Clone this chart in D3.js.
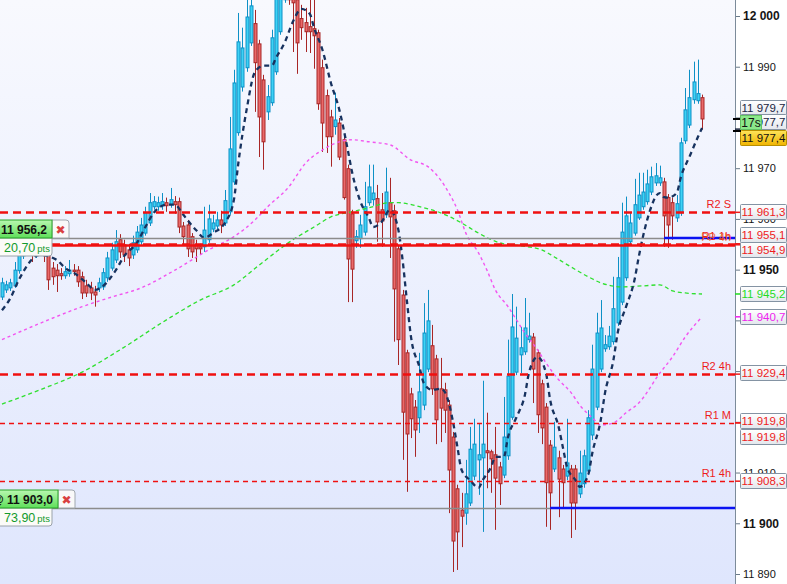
<!DOCTYPE html>
<html>
<head>
<meta charset="utf-8">
<script src="https://cdn.jsdelivr.net/npm/d3@7"></script>
<style>
  html, body { margin: 0; padding: 0; background: #fff; }
  svg { display: block; font-family: "Liberation Sans", Arial, sans-serif; }
</style>
</head>
<body>
<svg id="chart" width="787" height="584"></svg>
<script>
// ---- candles (price, one entry per bar) ----
const openP = [
  11944.6,11946.0,11946.4,11946.8,11949.8,11952.7,11954.7,11956.5,11954.5,11955.3,
  11956.7,11953.1,11950.3,11949.9,11949.2,11948.8,11949.2,11949.9,11949.9,11948.6,
  11946.8,11946.4,11945.6,11946.4,11946.6,11948.4,11950.3,11951.9,11955.9,11954.9,
  11953.9,11952.9,11953.9,11955.5,11957.2,11959.2,11962.4,11962.4,11962.6,11963.2,
  11962.8,11963.4,11963.4,11958.6,11958.8,11956.5,11954.9,11954.5,11954.5,11955.9,
  11958.0,11958.6,11959.8,11959.2,11961.4,11967.3,11977.0,11986.0,11989.8,11994.7,
  11998.5,11994.5,11987.4,11981.1,11982.9,11989.0,11996.9,12003.2,12004.4,12003.8,
  12003.2,11999.5,11998.7,11997.9,11997.5,11996.7,11989.8,11984.3,11980.1,11978.2,
  11978.9,11975.6,11969.9,11961.0,11955.7,11956.1,11957.4,11963.2,11963.8,11964.0,
  11961.8,11960.8,11963.2,11961.6,11954.1,11945.0,11933.6,11925.5,11922.9,11920.8,
  11923.3,11930.4,11935.0,11932.4,11926.5,11926.3,11923.3,11917.0,11906.8,11902.6,
  11902.0,11904.0,11909.3,11912.5,11912.9,11914.3,11914.1,11913.5,11911.1,11909.5,
  11913.3,11920.9,11929.8,11933.2,11933.8,11936.2,11936.7,11933.6,11927.5,11922.9,
  11915.4,11910.7,11912.9,11910.7,11909.3,11910.7,11910.7,11905.8,11907.8,11910.3,
  11917.4,11922.9,11930.4,11934.4,11934.8,11935.8,11939.5,11943.6,11948.4,11955.5,
  11957.2,11960.2,11962.4,11963.4,11965.3,11967.1,11967.1,11967.3,11964.2,11963.2,
  11960.2,11961.2,11975.4,11978.5,11983.5,11983.3,11983.9
];
const highP = [
  11948.4,11947.8,11948.2,11951.5,11954.9,11956.7,11958.0,11957.4,11957.2,11958.6,
  11957.8,11953.9,11951.5,11951.1,11950.3,11950.7,11951.9,11951.1,11950.7,11949.6,
  11948.0,11947.6,11946.8,11948.4,11950.3,11953.5,11955.3,11957.8,11957.0,11955.9,
  11955.1,11956.7,11958.6,11960.2,11962.4,11965.1,11964.5,11964.4,11965.1,11964.2,
  11966.1,11964.5,11964.2,11959.4,11959.8,11957.2,11955.9,11955.1,11962.4,11962.8,
  11960.8,11961.4,11961.6,11965.7,11980.1,11989.4,12000.6,11997.7,12003.2,12004.2,
  12001.2,11995.3,11988.4,11986.4,11997.3,12005.2,12005.6,12005.6,12005.6,12005.2,
  12004.8,12002.2,12001.6,12003.2,12003.2,11997.3,11991.4,11985.5,11981.5,11984.9,
  11979.9,11976.6,11970.7,11961.8,11957.8,11960.8,11967.3,11970.7,11970.7,11966.7,
  11965.1,11970.1,11968.1,11962.8,11954.9,11946.0,11934.2,11926.7,11924.3,11933.6,
  11943.4,11946.0,11939.1,11933.2,11932.6,11927.7,11924.3,11918.0,11907.6,11906.0,
  11912.5,11919.0,11920.6,11919.6,11928.1,11921.8,11914.5,11919.0,11912.1,11924.9,
  11936.2,11945.2,11942.7,11938.7,11944.4,11941.5,11937.5,11934.2,11928.3,11923.7,
  11916.4,11920.0,11914.3,11911.5,11920.6,11911.5,11911.5,11914.3,11914.5,11922.3,
  11935.2,11941.5,11944.0,11937.1,11938.9,11948.6,11952.5,11963.2,11964.4,11961.2,
  11967.9,11969.1,11969.1,11969.7,11970.3,11971.0,11970.5,11968.1,11964.9,11964.2,
  11964.7,11976.0,11985.8,11989.4,11991.0,11991.4,11984.5
];
const lowP = [
  11944.0,11945.4,11945.8,11946.4,11949.2,11952.1,11954.1,11951.5,11952.3,11953.9,
  11951.5,11946.0,11947.0,11945.6,11948.0,11948.2,11948.6,11948.8,11946.6,11944.2,
  11944.6,11944.0,11942.7,11945.6,11946.0,11947.6,11949.8,11951.3,11952.3,11951.5,
  11950.7,11952.1,11953.3,11954.9,11956.7,11958.6,11961.8,11961.6,11961.8,11961.4,
  11962.2,11961.0,11957.2,11954.9,11952.5,11952.3,11951.5,11952.9,11953.5,11955.3,
  11957.4,11958.0,11957.2,11958.6,11960.8,11966.7,11976.4,11985.1,11989.0,11994.1,
  11981.1,11972.2,11969.7,11979.5,11982.3,11988.4,11996.3,12002.6,12002.2,11992.9,
  11988.6,11995.3,11992.9,11992.7,11989.6,11981.5,11973.2,11973.0,11970.3,11976.6,
  11971.6,11963.8,11943.6,11943.6,11954.3,11954.3,11956.7,11962.6,11962.6,11955.5,
  11954.5,11960.2,11952.3,11935.8,11931.2,11912.5,11906.2,11916.8,11913.1,11917.8,
  11922.3,11929.8,11925.3,11915.6,11916.0,11917.8,11902.0,11890.4,11890.8,11895.3,
  11899.7,11903.4,11908.5,11905.6,11898.3,11906.9,11906.0,11898.7,11903.6,11908.9,
  11912.5,11920.4,11929.2,11929.6,11933.2,11935.6,11923.7,11917.8,11915.6,11899.3,
  11898.7,11910.1,11901.2,11903.0,11908.5,11897.1,11898.7,11905.0,11907.0,11909.5,
  11916.4,11922.3,11929.8,11933.8,11934.2,11935.2,11938.9,11943.0,11947.8,11954.9,
  11956.7,11959.8,11961.8,11962.8,11964.7,11966.5,11966.5,11954.5,11954.3,11955.9,
  11959.4,11960.6,11974.8,11977.9,11982.7,11982.7,11977.6
];
const closeP = [
  11947.4,11947.0,11947.4,11949.9,11953.5,11955.3,11956.7,11954.7,11955.7,11956.9,
  11953.1,11948.0,11948.6,11948.8,11948.8,11949.6,11949.9,11949.6,11947.6,11945.4,
  11945.4,11945.4,11945.0,11947.4,11949.4,11952.3,11953.9,11955.5,11953.5,11952.9,
  11952.3,11955.3,11957.4,11958.8,11961.2,11963.2,11963.4,11963.2,11963.4,11962.6,
  11963.8,11962.8,11958.4,11956.5,11954.1,11953.5,11954.1,11954.1,11957.8,11960.0,
  11959.2,11959.8,11958.8,11963.6,11973.8,11986.8,11994.9,11993.7,11999.8,12002.0,
  11990.8,11980.1,11975.2,11984.1,11995.7,12004.2,12004.4,12004.4,12003.2,12002.6,
  11994.7,11997.7,11996.9,11996.9,11996.1,11982.7,11978.9,11976.2,11976.2,11979.5,
  11972.2,11964.2,11952.1,11950.1,11956.5,11958.8,11962.4,11966.3,11965.1,11959.4,
  11959.6,11965.3,11960.4,11946.2,11936.2,11921.9,11917.6,11920.6,11918.4,11925.9,
  11937.5,11939.9,11926.5,11920.4,11922.7,11922.3,11910.5,11896.5,11898.3,11901.4,
  11905.8,11914.6,11915.6,11913.5,11915.6,11913.9,11912.7,11908.9,11907.8,11917.0,
  11929.0,11938.7,11936.5,11934.6,11938.5,11936.9,11930.4,11921.4,11918.8,11908.0,
  11906.0,11915.0,11908.7,11908.0,11911.9,11904.0,11904.0,11909.9,11913.3,11920.8,
  11930.4,11937.5,11938.5,11935.2,11936.9,11942.3,11948.4,11957.4,11960.6,11959.2,
  11962.8,11964.7,11965.3,11966.9,11968.3,11968.5,11968.1,11960.6,11958.8,11960.6,
  11963.0,11975.0,11981.5,11983.9,11987.0,11984.7,11979.7
];

// ---- moving averages at bar indices ----
const fastIdx = [
  0,2,4,9,13,15,17,20,22,24, 27,29,32,34,36,39,41,43,46,48,
  50,53,55,56,58,60,62,64,65,67, 69,71,73,74,76,78,80,82,83,85,
  87,88,90,92,94,95,96,97,99,100, 102,104,105,107,108,109,111,113,114,116,
  117,119,120,122,124,125,127,129,130,132, 133,134,136,137,139,140,142,143,145,146,
  148,150,151,152,153,156,157,158,160,161, 163,165,166
];
const fastVal = [
  11942.0,11944.4,11948.0,11952.9,11951.9,11950.3,11949.4,11947.4,11946.0,11946.8,
  11949.9,11952.7,11955.3,11958.4,11961.2,11962.8,11962.8,11960.8,11957.8,11956.3,
  11957.2,11959.4,11963.8,11970.7,11981.5,11989.0,11990.2,11990.2,11991.8,11994.7,
  11998.9,12001.4,12000.4,11997.7,11993.3,11986.8,11981.5,11973.6,11969.3,11963.4,
  11960.2,11958.4,11959.4,11961.8,11957.8,11951.9,11944.0,11936.7,11930.8,11927.7,
  11926.3,11926.5,11925.9,11919.8,11915.0,11910.5,11908.5,11907.0,11908.5,11911.1,
  11913.1,11913.1,11917.0,11920.9,11925.3,11929.8,11932.8,11929.6,11924.3,11919.0,
  11915.0,11911.1,11908.5,11907.2,11909.5,11913.9,11920.4,11925.7,11932.2,11937.5,
  11942.7,11948.0,11952.5,11956.5,11959.8,11965.1,11964.3,11964.2,11965.1,11968.3,
  11972.2,11976.1,11977.9
];
const pinkIdx = [
  0,11,19,26,33,41,49,55,60,63, 68,72,76,80,83,87,92,97,101,104,
  106,108,110,113,115,117,120,122,124,127, 129,132,135,137,140,142,145,148,151,156,
  159,162,166
];
const pinkVal = [
  11936.2,11940.1,11942.7,11944.6,11946.4,11949.9,11953.9,11956.5,11959.8,11962.4,
  11966.3,11971.0,11973.6,11975.2,11975.6,11975.2,11974.6,11971.6,11970.3,11967.7,
  11965.1,11961.8,11957.2,11953.3,11949.9,11946.0,11942.7,11940.1,11937.5,11934.2,
  11931.6,11928.3,11925.7,11923.3,11920.8,11919.4,11919.8,11921.8,11923.7,11929.6,
  11932.8,11936.7,11940.7
];
const greenIdx = [
  0,9,19,28,39,47,55,61,69,74, 78,83,87,92,94,99,104,109,113,118,
  123,128,131,135,139,142,147,152,156,159, 162,166
];
const greenVal = [
  11923.5,11926.3,11929.8,11934.2,11940.1,11944.0,11947.0,11950.9,11955.9,11958.4,
  11960.4,11961.4,11962.2,11963.2,11963.2,11962.4,11961.2,11959.2,11957.2,11955.3,
  11954.7,11953.9,11952.5,11950.5,11948.6,11947.4,11946.6,11946.8,11947.0,11945.8,
  11945.4,11945.2
];

// ---- horizontal levels ----
const levelValues = [11961.3, 11955.1, 11954.9, 11929.4, 11919.8, 11908.3];
const levelNames  = ["R2 S", "R1 1h", "PP 4h", "R2 4h", "R1 M", "R1 4h"];

// ---- open positions ----
const posPrice = [11956.2, 11903.0];
const posStartIdx = [157, 130];
const posPts = [20.70, 73.90];

// ---- right axis ----
const tickValues = [11890, 11900, 11910, 11920, 11930, 11940, 11950, 11960, 11970, 11980, 11990, 12000];
const axisLabelValues = [11979.7, 11977.7, 11977.4, 11961.3, 11955.1, 11954.9, 11945.2, 11940.7, 11929.4, 11919.8, 11919.8, 11908.3];
const timerText = "17s";

// ------------------------------------------------------------
const W = 787, H = 584, plotW = 735;
const svg = d3.select("#chart");
const x = d3.scaleLinear().domain([0, openP.length - 1]).range([2, 702]);
const y = d3.scaleLinear().domain([11890, 12000]).range([574, 16]);

const fmtTick = v => d3.format(",")(v).replace(/,/g, " ");
const fmtPrice = v => d3.format(",.1f")(v).replace(/,/g, " ").replace(".", ",");
const fmtPts = v => d3.format(".2f")(v).replace(".", ",");

const defs = svg.append("defs");
function vgrad(id, a, b) {
  const g = defs.append("linearGradient").attr("id", id)
    .attr("x1", 0).attr("y1", 0).attr("x2", 0).attr("y2", 1);
  g.append("stop").attr("offset", "0%").attr("stop-color", a);
  g.append("stop").attr("offset", "100%").attr("stop-color", b);
}
vgrad("bg", "#f8f9fe", "#dfe6fd");
vgrad("box", "#ffffff", "#e3e7ed");
vgrad("gold", "#ffe45a", "#f0b400");
vgrad("greenbox", "#b8f7b0", "#5fdf5a");
defs.append("clipPath").attr("id", "plotclip")
  .append("rect").attr("width", plotW).attr("height", H);

svg.append("rect").attr("width", plotW).attr("height", H).attr("fill", "url(#bg)");
svg.append("rect").attr("x", plotW).attr("width", W - plotW).attr("height", H).attr("fill", "#fff");

const plot = svg.append("g").attr("clip-path", "url(#plotclip)");

// candles
const bars = d3.range(openP.length).map(i => ({ i, o: openP[i], h: highP[i], l: lowP[i], c: closeP[i] }));
const isUp = d => d.c >= d.o;
const cx = d => Math.round(x(d.i));

plot.append("g").selectAll("line").data(bars).join("line")
  .attr("x1", d => cx(d) + 0.5).attr("x2", d => cx(d) + 0.5)
  .attr("y1", d => y(d.h)).attr("y2", d => y(d.l))
  .attr("stroke", d => isUp(d) ? "#0d90c6" : "#a82626")
  .attr("stroke-width", 1);

plot.append("g").selectAll("rect").data(bars).join("rect")
  .attr("x", d => cx(d) - 1)
  .attr("width", 3)
  .attr("y", d => y(Math.max(d.o, d.c)))
  .attr("height", d => Math.max(1, Math.abs(y(d.o) - y(d.c))))
  .attr("fill", d => isUp(d) ? "#3ed2f5" : "#ea6a6a")
  .attr("stroke", d => isUp(d) ? "#0d90c6" : "#a82626")
  .attr("stroke-width", 1);

// indicator lines
const line = d3.line().x(d => x(d[0])).y(d => y(d[1])).curve(d3.curveMonotoneX);
plot.append("path").datum(d3.zip(greenIdx, greenVal))
  .attr("d", line).attr("fill", "none")
  .attr("stroke", "#2fe02f").attr("stroke-width", 1.3).attr("stroke-dasharray", "4,3");
plot.append("path").datum(d3.zip(pinkIdx, pinkVal))
  .attr("d", line).attr("fill", "none")
  .attr("stroke", "#f255f0").attr("stroke-width", 1.4).attr("stroke-dasharray", "3,3");
plot.append("path").datum(d3.zip(fastIdx, fastVal))
  .attr("d", line).attr("fill", "none")
  .attr("stroke", "#17325f").attr("stroke-width", 2.3).attr("stroke-dasharray", "5,4");

// levels
const levelStyle = [
  { w: 2.6, dash: "8,5" },
  { w: 2.4, dash: "8,5" },
  { w: 2.6, dash: null },
  { w: 2.6, dash: "8,5" },
  { w: 1.4, dash: "5,4" },
  { w: 1.4, dash: "5,4" }
];
const lv = plot.append("g");
levelValues.forEach((v, k) => {
  const yy = Math.round(y(v)) + 0.5;
  lv.append("line").attr("x1", 0).attr("x2", plotW).attr("y1", yy).attr("y2", yy)
    .attr("stroke", "#f01010").attr("stroke-width", levelStyle[k].w)
    .attr("stroke-dasharray", levelStyle[k].dash);
});

// position lines
posPrice.forEach((p, k) => {
  const yy = Math.round(y(p)) + 0.5;
  const xs = x(posStartIdx[k]);
  plot.append("line").attr("x1", 0).attr("x2", xs).attr("y1", yy).attr("y2", yy)
    .attr("stroke", "#8c8c8c").attr("stroke-width", 1.5);
  plot.append("line").attr("x1", xs).attr("x2", plotW).attr("y1", yy - 0.5).attr("y2", yy - 0.5)
    .attr("stroke", "#0a12f2").attr("stroke-width", 2.6);
});

// level names
levelValues.forEach((v, k) => {
  plot.append("text").attr("x", 731).attr("y", y(v) - 4)
    .attr("text-anchor", "end").attr("font-size", 11)
    .attr("fill", k === 2 ? "#f05a1a" : "#ee1c1c")
    .attr("opacity", k === 2 ? 0.8 : 1)
    .text(levelNames[k]);
});

// position tags on the left
const tagRight = [52, 58];
posPrice.forEach((p, k) => {
  const yy = Math.round(y(p));
  const r = tagRight[k];
  const g = svg.append("g");
  // pts box
  g.append("path")
    .attr("d", `M-5,${yy} H52 V${yy + 15} Q52,${yy + 18} 49,${yy + 18} H-5 Z`)
    .attr("fill", "#fbfbf8").attr("stroke", "#9aa2aa").attr("stroke-width", 1);
  const t = g.append("text").attr("x", 4).attr("y", yy + 14).attr("fill", "#139a2c");
  t.append("tspan").attr("font-size", 12.5).text(fmtPts(posPts[k]));
  t.append("tspan").attr("font-size", 9.5).attr("dx", 2).text("pts");
  // close button
  g.append("path")
    .attr("d", `M${r},${yy - 18} H${r + 14} Q${r + 17},${yy - 18} ${r + 17},${yy - 15} V${yy} H${r} Z`)
    .attr("fill", "#f9f9f9").attr("stroke", "#a0a7ae").attr("stroke-width", 1);
  g.append("text").attr("x", r + 8.5).attr("y", yy - 4.5).attr("text-anchor", "middle")
    .attr("font-family", "DejaVu Sans").attr("font-size", 12).attr("fill", "#d94040").text("\u2716");
  // price box
  g.append("rect").attr("x", -8).attr("y", yy - 18).attr("width", r + 8).attr("height", 18)
    .attr("fill", "url(#greenbox)").attr("stroke", "#29a329").attr("stroke-width", 1);
  g.append("text").attr("x", r - 5).attr("y", yy - 4.5).attr("text-anchor", "end")
    .attr("font-size", 12).attr("font-weight", "bold").attr("fill", "#111")
    .text("@ " + fmtPrice(p));
});

// right axis
const axisG = svg.append("g").attr("transform", `translate(${plotW},0)`)
  .call(d3.axisRight(y).tickValues(tickValues).tickSize(5).tickPadding(3).tickFormat(fmtTick));
axisG.select(".domain").remove();
axisG.selectAll(".tick line").attr("stroke", "#6a7a8a");
axisG.selectAll(".tick text")
  .attr("font-family", "Liberation Sans, Arial, sans-serif")
  .attr("font-size", d => d % 50 === 0 ? 12 : 11)
  .attr("font-weight", d => d % 50 === 0 ? "bold" : "normal")
  .attr("fill", "#151515");
svg.append("line").attr("x1", plotW + 0.5).attr("x2", plotW + 0.5).attr("y1", 0).attr("y2", H)
  .attr("stroke", "#7c8b9a").attr("stroke-width", 1);

// value boxes on the axis
const boxStyle = [
  { fg: "#1a2440", fill: "url(#box)", dy: -10.5 },
  { fg: "#1a2440", fill: "url(#box)", dy: -7 },
  { fg: "#111111", fill: "url(#gold)", dy: 7, stroke: "#b98f00" },
  { fg: "#ee1c1c", fill: "url(#box)", dy: 0 },
  { fg: "#ee1c1c", fill: "url(#box)", dy: -9 },
  { fg: "#ee1c1c", fill: "url(#box)", dy: 5 },
  { fg: "#1fdc1f", fill: "url(#box)", dy: 0 },
  { fg: "#ee22ee", fill: "url(#box)", dy: 0 },
  { fg: "#ee1c1c", fill: "url(#box)", dy: -1 },
  { fg: "#ee1c1c", fill: "url(#box)", dy: -2 },
  { fg: "#ee1c1c", fill: "url(#box)", dy: 14 },
  { fg: "#ee1c1c", fill: "url(#box)", dy: 0 }
];
const bx = svg.append("g");
axisLabelValues.forEach((v, k) => {
  const s = boxStyle[k];
  const yy = y(v);
  if (k !== 0 && k !== 2) {
    bx.append("line").attr("x1", plotW).attr("x2", 741).attr("y1", yy).attr("y2", yy)
      .attr("stroke", s.fg).attr("stroke-width", 1.5);
  }
  const c = Math.round(yy + s.dy);
  bx.append("rect").attr("x", 740.5).attr("y", c - 7.5).attr("width", 46).attr("height", 15)
    .attr("rx", 1).attr("fill", s.fill).attr("stroke", s.stroke || "#8493a3").attr("stroke-width", 1);
  bx.append("text").attr("x", 763.5).attr("y", c + 4).attr("text-anchor", "middle")
    .attr("font-size", 11.5).attr("fill", s.fg).text(fmtPrice(v));
});

// current price marks and timer
[axisLabelValues[0], axisLabelValues[2]].forEach(v => {
  bx.append("line").attr("x1", 733).attr("x2", 741).attr("y1", Math.round(y(v)))
    .attr("y2", Math.round(y(v))).attr("stroke", "#000").attr("stroke-width", 2);
});
bx.append("rect").attr("x", 740.5).attr("y", 115.5).attr("width", 21).attr("height", 14)
  .attr("fill", "#8be88a").attr("stroke", "#63c063").attr("stroke-width", 1);
bx.append("text").attr("x", 751).attr("y", 126.5).attr("text-anchor", "middle")
  .attr("font-size", 12).attr("fill", "#111").text(timerText);
</script>
</body>
</html>
